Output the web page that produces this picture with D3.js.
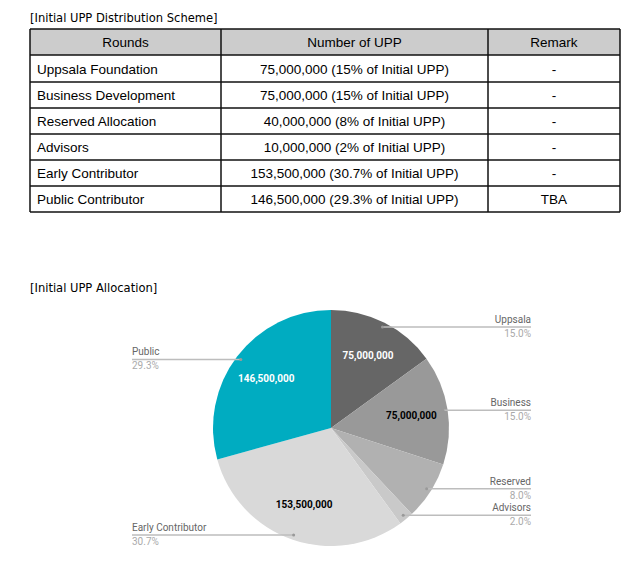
<!DOCTYPE html>
<html>
<head>
<meta charset="utf-8">
<title>Initial UPP</title>
<script src="https://cdn.jsdelivr.net/npm/d3@7"></script>
<style>
body{ margin:0; background:#fff; }
svg{ display:block; }
.cap{ font-family:"DejaVu Sans Condensed","DejaVu Sans",sans-serif; font-size:12.8px; fill:#000; }
.cell{ font-family:"Liberation Sans",Arial,sans-serif; font-size:13.5px; fill:#000; }
.lbl{ font-family:Roboto,sans-serif; font-size:10px; }
</style>
</head>
<body>
<svg id="chart" width="640" height="561"></svg>
<script>
// table data
var headers = ["Rounds", "Number of UPP", "Remark"];
var rounds = ["Uppsala Foundation", "Business Development", "Reserved Allocation", "Advisors", "Early Contributor", "Public Contributor"];
var amounts = ["75,000,000 (15% of Initial UPP)", "75,000,000 (15% of Initial UPP)", "40,000,000 (8% of Initial UPP)",
               "10,000,000 (2% of Initial UPP)", "153,500,000 (30.7% of Initial UPP)", "146,500,000 (29.3% of Initial UPP)"];
var remarks = ["-", "-", "-", "-", "-", "TBA"];

// pie data
var pieNames = ["Uppsala", "Business", "Reserved", "Advisors", "Early Contributor", "Public"];
var pieValues = [75000000, 75000000, 40000000, 10000000, 153500000, 146500000];
var pieColors = ["#666666", "#999999", "#b1b1b1", "#c9c9c9", "#d9d9d9", "#00acc1"];
var innerText = ["#fff", "#000", null, null, "#000", "#fff"];

var svg = d3.select("#chart");

// ---- table ----
svg.append("text").attr("class", "cap").attr("x", 30).attr("y", 22)
   .text("[Initial UPP Distribution Scheme]");

var colX = [30, 221, 488, 620];
var rowY = [29, 55, 82, 108, 134, 160, 186, 212];

svg.append("rect").attr("x", colX[0]).attr("y", rowY[0])
   .attr("width", colX[3] - colX[0]).attr("height", rowY[1] - rowY[0])
   .attr("fill", "#cccccc");

var tbl = svg.append("g").attr("stroke", "#111").attr("stroke-width", 1.5);
rowY.forEach(function(y){
    tbl.append("line").attr("x1", colX[0]).attr("x2", colX[3]).attr("y1", y).attr("y2", y);
});
colX.forEach(function(x){
    tbl.append("line").attr("x1", x).attr("x2", x).attr("y1", rowY[0]).attr("y2", rowY[rowY.length-1]);
});

function cellText(col, row, txt, align){
    var x = align == "start" ? colX[col] + 7 : (colX[col] + colX[col+1]) / 2;
    svg.append("text").attr("class", "cell")
       .attr("x", x).attr("y", (rowY[row] + rowY[row+1]) / 2 + 5)
       .attr("text-anchor", align)
       .text(txt);
}
headers.forEach(function(h, i){ cellText(i, 0, h, "middle"); });
for (var i = 0; i < rounds.length; i++) {
    cellText(0, i+1, rounds[i], "start");
    cellText(1, i+1, amounts[i], "middle");
    cellText(2, i+1, remarks[i], "middle");
}

// ---- pie ----
svg.append("text").attr("class", "cap").attr("x", 30).attr("y", 292)
   .text("[Initial UPP Allocation]");

var cx = 331, cy = 428, r = 118;
var total = d3.sum(pieValues);
var pie = d3.pie().sort(null).value(function(d){ return d; });
var arcs = pie(pieValues);
var arc = d3.arc().innerRadius(0).outerRadius(r);
var labelArc = d3.arc().innerRadius(r * 0.69).outerRadius(r * 0.69);

var g = svg.append("g").attr("transform", "translate(" + cx + "," + cy + ")");
g.selectAll("path").data(arcs).enter().append("path")
  .attr("d", arc)
  .attr("fill", function(d, i){ return pieColors[i]; });

g.selectAll("text.in").data(arcs).enter()
  .filter(function(d, i){ return innerText[i]; })
  .append("text")
  .attr("class", "lbl")
  .attr("transform", function(d){ return "translate(" + labelArc.centroid(d) + ")"; })
  .attr("text-anchor", "middle").attr("dy", "0.35em")
  .attr("font-weight", "bold")
  .attr("fill", function(d){ return innerText[d.index]; })
  .text(function(d){ return d3.format(",")(d.value); });

// leader lines
var leftX = 132, rightX = 531;
arcs.forEach(function(d, i){
    var mid = (d.startAngle + d.endAngle) / 2;
    var px = cx + Math.sin(mid) * r * 0.96;
    var py = cy - Math.cos(mid) * r * 0.96;
    var right = Math.sin(mid) > 0;
    var ex = right ? rightX : leftX;
    svg.append("line").attr("x1", px).attr("x2", ex).attr("y1", py).attr("y2", py)
       .attr("stroke", "#bdbdbd").attr("stroke-width", 1.5);
    svg.append("circle").attr("cx", px).attr("cy", py).attr("r", 1.5).attr("fill", "#999");
    var anchor = right ? "end" : "start";
    svg.append("text").attr("class", "lbl").attr("x", ex).attr("y", py - 4)
       .attr("text-anchor", anchor).attr("fill", "#666").text(pieNames[i]);
    svg.append("text").attr("class", "lbl").attr("x", ex).attr("y", py + 10)
       .attr("text-anchor", anchor).attr("fill", "#aaa")
       .text(d3.format(".1f")(d.value / total * 100) + "%");
});
</script>
</body>
</html>
